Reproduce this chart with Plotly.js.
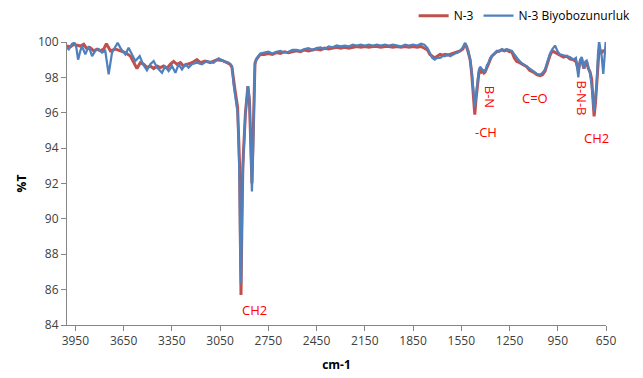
<!DOCTYPE html>
<html>
<head>
<meta charset="utf-8">
<script src="https://cdn.plot.ly/plotly-3.0.1.min.js"></script>
<style>html,body{margin:0;padding:0;background:#fff;}#chart{width:643px;height:378px;}</style>
</head>
<body>
<div id="chart"></div>
<script>
// N-3 (red) spectrum: wavenumber (cm-1) and %T
const wnRed = [4002,3981,3960,3940,3919,3898,3877,3857,3836,3815,3795,3774,3757,3732,3701,3670,3639,3608,3587,3567,3546,3525,3505,3484,3463,3442,3422,3401,3380,3360,3339,3318,3297,3277,3256,3225,3194,3173,3142,3111,3070,3038,3007,2987,2976,2966,2956,2941,2935,2929,2925,2920,2914,2908,2893,2877,2867,2857,2852,2846,2840,2833,2825,2800,2775,2750,2725,2700,2675,2650,2625,2600,2575,2550,2525,2500,2475,2450,2425,2400,2375,2350,2325,2300,2275,2250,2225,2200,2175,2150,2125,2100,2075,2050,2025,2000,1975,1950,1925,1900,1875,1850,1825,1800,1780,1760,1745,1730,1715,1700,1682,1665,1650,1635,1619,1600,1588,1570,1557,1540,1526,1515,1506,1495,1485,1474,1466,1458,1450,1441,1433,1424,1416,1409,1402,1390,1381,1370,1360,1345,1329,1314,1298,1283,1267,1250,1236,1220,1205,1190,1174,1158,1143,1125,1102,1080,1060,1045,1029,1014,998,983,967,950,936,915,894,875,853,837,822,811,801,794,787,778,770,760,749,739,732,724,716,708,700,693,685,677,667,660,652];
const tRed = [99.77,99.72,99.87,99.83,99.77,99.87,99.6,99.68,99.5,99.6,99.5,99.6,99.9,99.5,99.6,99.5,99.4,99.2,98.83,98.5,98.83,98.74,98.55,98.64,98.5,98.64,98.55,98.64,98.5,98.74,98.9,98.74,98.83,98.64,98.74,98.83,99.0,98.83,98.92,98.83,99.0,98.96,98.83,98.74,98.55,97.8,97.2,96.3,95.0,93.1,90.0,85.7,90.0,93.1,95.9,97.5,96.6,93.2,92.0,94.0,96.5,98.8,99.0,99.3,99.3,99.35,99.3,99.4,99.35,99.45,99.4,99.45,99.5,99.45,99.55,99.5,99.55,99.6,99.55,99.65,99.6,99.65,99.7,99.65,99.7,99.65,99.7,99.75,99.7,99.75,99.7,99.75,99.75,99.7,99.75,99.75,99.7,99.75,99.7,99.75,99.7,99.75,99.7,99.75,99.65,99.55,99.3,99.2,99.1,99.2,99.3,99.25,99.3,99.25,99.3,99.35,99.4,99.45,99.5,99.6,99.9,99.7,99.4,99.0,98.2,96.8,95.9,96.8,97.6,98.2,98.5,98.3,98.35,98.25,98.3,98.6,98.75,99.0,99.2,99.35,99.45,99.5,99.55,99.5,99.55,99.45,99.45,99.1,98.9,98.85,98.75,98.65,98.6,98.4,98.3,98.15,98.1,98.15,98.35,98.8,99.25,99.5,99.4,99.3,99.25,99.15,99.2,99.05,99.0,98.9,98.4,98.9,99.05,98.7,98.5,98.8,98.9,98.5,98.3,97.9,96.8,95.8,96.5,97.5,98.8,99.6,99.5,99.4,99.5,99.5,99.5];

// N-3 Biyobozunurluk (blue) spectrum
const wnBlue = [4002,3991,3971,3956,3944,3933,3919,3909,3888,3867,3846,3826,3805,3784,3764,3743,3722,3687,3666,3639,3619,3592,3577,3550,3529,3505,3484,3463,3442,3411,3391,3370,3349,3328,3308,3287,3266,3246,3225,3194,3163,3132,3090,3059,3028,2997,2976,2966,2956,2941,2935,2929,2925,2920,2914,2908,2893,2877,2867,2857,2852,2846,2840,2833,2825,2800,2775,2750,2725,2700,2675,2650,2625,2600,2575,2550,2525,2500,2475,2450,2425,2400,2375,2350,2325,2300,2275,2250,2225,2200,2175,2150,2125,2100,2075,2050,2025,2000,1975,1950,1925,1900,1875,1850,1825,1800,1780,1760,1745,1730,1715,1700,1682,1665,1650,1635,1619,1600,1588,1570,1557,1540,1526,1515,1506,1495,1485,1474,1466,1458,1450,1441,1433,1424,1416,1409,1402,1390,1381,1370,1360,1345,1329,1314,1298,1283,1267,1250,1236,1220,1205,1190,1174,1158,1143,1125,1102,1080,1060,1045,1029,1014,998,983,967,950,936,915,894,875,853,837,822,811,801,794,787,778,770,760,749,739,732,724,716,708,700,693,685,677,667,660,652];
const tBlue = [99.68,99.58,99.9,99.96,99.68,99.0,99.5,99.77,99.3,99.77,99.2,99.5,99.6,99.4,99.5,98.17,99.4,99.96,99.6,99.3,99.68,99.2,98.92,99.2,98.74,98.4,98.74,98.92,98.55,98.26,98.64,98.36,98.64,98.26,98.74,98.45,98.74,98.55,98.74,98.83,98.74,98.92,98.83,99.07,98.92,98.83,98.64,97.6,97.0,96.0,94.5,92.0,88.0,86.3,89.5,92.8,95.9,97.5,96.8,93.0,91.55,93.5,96.3,98.7,99.05,99.35,99.4,99.45,99.35,99.45,99.5,99.4,99.45,99.55,99.55,99.5,99.6,99.65,99.55,99.65,99.7,99.6,99.75,99.7,99.8,99.75,99.8,99.75,99.85,99.8,99.85,99.8,99.85,99.8,99.85,99.8,99.85,99.8,99.85,99.8,99.75,99.85,99.8,99.85,99.8,99.9,99.85,99.65,99.4,99.1,99.0,99.1,99.1,99.2,99.2,99.3,99.2,99.3,99.35,99.4,99.5,99.7,99.96,99.6,99.5,99.0,98.3,97.2,96.3,97.0,97.8,98.4,98.6,98.5,98.4,98.4,98.3,98.7,98.8,99.1,99.2,99.4,99.5,99.45,99.6,99.55,99.6,99.55,99.5,99.3,99.1,98.95,98.8,98.7,98.65,98.5,98.35,98.2,98.15,98.25,98.45,98.9,99.35,99.6,99.8,99.45,99.3,99.25,99.2,99.15,99.0,99.1,98.0,99.0,99.15,98.8,98.5,98.9,98.95,98.6,98.2,97.5,96.9,96.1,96.8,97.6,99.3,100.05,99.6,99.2,98.2,99.4,100.0];

const xTicks = [3950,3650,3350,3050,2750,2450,2150,1850,1550,1250,950,650];
const seriesNames = ["N-3", "N-3 Biyobozunurluk"];
const bandLabels = ["CH2", "B-N", "-CH", "C=O", "B-N-B", "CH2"];
const bandX = [2838, 1371, 1396, 1091, 801, 712];
const bandY = [84.85, 96.9, 94.93, 96.82, 96.82, 94.57];
const bandAngle = [0, 90, 0, 0, 90, 0];

const FONT = "Open Sans, Liberation Sans, sans-serif";

const traces = [
  {x: wnRed, y: tRed, name: seriesNames[0], type: "scatter", mode: "lines",
   line: {color: "#C0504D", width: 3}},
  {x: wnBlue, y: tBlue, name: seriesNames[1], type: "scatter", mode: "lines",
   line: {color: "#4F81BD", width: 2.25}}
];

const annotations = bandLabels.map((t, i) => ({
  text: t, x: bandX[i], y: bandY[i], xref: "x", yref: "y",
  showarrow: false, textangle: bandAngle[i],
  font: {family: FONT, size: 13, color: "#FF0000"},
  xanchor: "center", yanchor: "middle"
}));

const layout = {
  width: 643, height: 378,
  margin: {l: 67, r: 37, t: 42, b: 53, pad: 0, autoexpand: false},
  paper_bgcolor: "#fff", plot_bgcolor: "#fff",
  font: {family: FONT, size: 12, color: "#404040"},
  showlegend: true,
  legend: {orientation: "h", x: 1.055, xanchor: "right", y: 1.093, yanchor: "middle",
           font: {family: FONT, size: 12, color: "#000"}, bgcolor: "rgba(0,0,0,0)",
           itemwidth: 30, tracegroupgap: 0},
  xaxis: {range: [4002, 650], tickmode: "array", tickvals: xTicks, ticktext: xTicks.map(String),
          showgrid: false, zeroline: false, showline: true, linecolor: "#868686", linewidth: 1,
          ticks: "outside", ticklen: 5, tickcolor: "#868686",
          tickfont: {family: FONT, size: 12, color: "#404040"},
          title: {text: "<b>cm-1</b>", font: {family: FONT, size: 12, color: "#000"}, standoff: 12}},
  yaxis: {range: [84, 100], dtick: 2, tick0: 84,
          showgrid: false, zeroline: false, showline: true, linecolor: "#868686", linewidth: 1,
          ticks: "outside", ticklen: 5, tickcolor: "#868686",
          tickfont: {family: FONT, size: 12, color: "#404040"},
          title: {text: "<b>%T</b>", font: {family: FONT, size: 12, color: "#000"}, standoff: 8}},
  annotations: annotations
};

Plotly.newPlot("chart", traces, layout, {displayModeBar: false, staticPlot: true});
</script>
</body>
</html>
